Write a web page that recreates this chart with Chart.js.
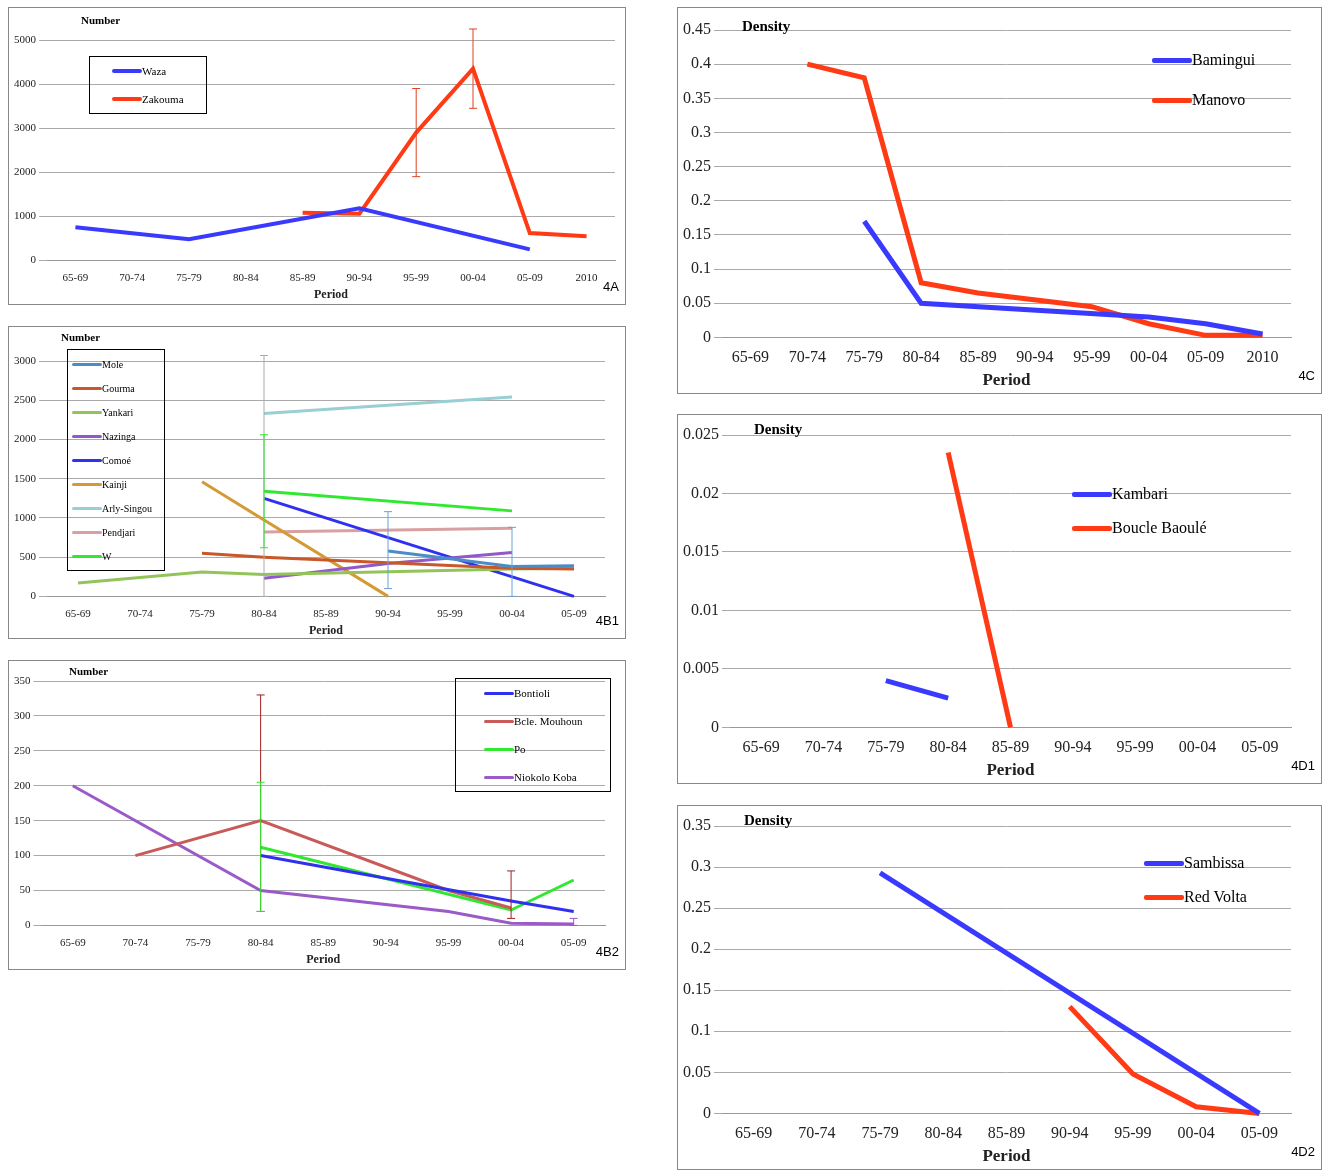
<!DOCTYPE html>
<html><head><meta charset="utf-8">
<script src="https://cdn.jsdelivr.net/npm/chart.js@4"></script>
<style>
body{margin:0;background:#fff;width:1322px;height:1170px;position:relative;font-family:"Liberation Serif",serif}
.p{position:absolute;border:1px solid #888;background:#fff;box-sizing:border-box}
.p canvas{position:absolute;left:0;top:0}
.ttl{position:absolute;font-weight:bold}
.tag{position:absolute;font-family:"Liberation Sans",sans-serif;font-size:13px}
.lg{position:absolute}
.lg div{display:flex;align-items:center;white-space:nowrap}
.lg span{display:inline-block}
</style></head><body>

<div class="p" id="pA" style="left:8px;top:7px;width:618px;height:298px"><canvas id="cA"></canvas></div>
<div class="p" id="pB1" style="left:8px;top:326px;width:618px;height:313px"><canvas id="cB1"></canvas></div>
<div class="p" id="pB2" style="left:8px;top:660px;width:618px;height:310px"><canvas id="cB2"></canvas></div>
<div class="p" id="pC" style="left:677px;top:7px;width:645px;height:387px"><canvas id="cC"></canvas></div>
<div class="p" id="pD1" style="left:677px;top:414px;width:645px;height:370px"><canvas id="cD1"></canvas></div>
<div class="p" id="pD2" style="left:677px;top:805px;width:645px;height:365px"><canvas id="cD2"></canvas></div>

<script>
// Periodos
const periodos9 = ["65-69","70-74","75-79","80-84","85-89","90-94","95-99","00-04","05-09"];
const periodos10 = ["65-69","70-74","75-79","80-84","85-89","90-94","95-99","00-04","05-09","2010"];

// 4A
const waza = [750,null,480,null,null,1180,null,null,250,null];
const zakouma = [null,null,null,null,1080,1060,2900,4350,620,550];
const errZakouma = [null,null,null,null,null,null,[1900,3900],[3450,5250],null,null];

// 4B1
const mole = [null,null,null,null,null,580,null,380,390];
const gourma = [null,null,550,500,null,null,null,360,350];
const yankari = [170,null,310,280,null,null,null,350,360];
const nazinga = [null,null,null,230,null,420,null,560,null];
const comoe = [null,null,null,1250,null,null,null,null,0];
const kainji = [null,null,1460,null,null,0,null,null,null];
const arly = [null,null,null,2330,null,null,null,2540,null];
const pendjari = [null,null,null,820,null,null,null,870,null];
const wPark = [null,null,null,1340,null,null,null,1090,null];
const errArly = [null,null,null,[0,3070],null,null,null,null,null];
const errW = [null,null,null,[620,2060],null,null,null,null,null];
const errMole = [null,null,null,null,null,[100,1080],null,[0,880],null];

// 4B2
const bontioli = [null,null,null,100,null,null,null,35,20];
const mouhoun = [null,100,null,150,null,null,50,25,null];
const po = [null,null,null,112,null,null,null,22,65];
const niokolo = [200,null,null,50,null,null,20,3,2];
const errMouhoun = [null,null,null,[20,330],null,null,null,[10,78],null];
const errPo = [null,null,null,[20,205],null,null,null,null,null];
const errNiokolo = [null,null,null,null,null,null,null,null,[0,10]];

// 4C
const bamingui = [null,null,0.17,0.05,null,null,null,0.03,0.02,0.005];
const manovo = [null,0.40,0.38,0.08,0.065,null,0.045,0.02,0.003,0.003];

// 4D1
const kambari = [null,null,0.004,0.0025,null,null,null,null,null];
const boucle = [null,null,null,0.0235,0,null,null,null,null];

// 4D2
const sambissa = [null,null,0.293,null,null,null,null,null,0];
const redVolta = [null,null,null,null,null,0.13,0.048,0.008,0];

const errPlugin = {
  id:"err",
  afterDatasetsDraw(chart){
    const c = chart.ctx, x = chart.scales.x, y = chart.scales.y;
    (chart.options.plugins.err.bars||[]).forEach(b=>{
      b.data.forEach((e,i)=>{
        if(!e) return;
        const px = x.getPixelForValue(i), y0 = y.getPixelForValue(e[0]), y1 = y.getPixelForValue(e[1]);
        c.save(); c.strokeStyle=b.color; c.lineWidth=1;
        c.beginPath(); c.moveTo(px,y0); c.lineTo(px,y1);
        c.moveTo(px-4,y0); c.lineTo(px+4,y0); c.moveTo(px-4,y1); c.lineTo(px+4,y1);
        c.stroke(); c.restore();
      });
    });
  }
};

function grafico(pid, cid, labels, series, y, opt){
  const p = document.getElementById(pid);
  const cv = document.getElementById(cid);
  cv.width = p.clientWidth; cv.height = p.clientHeight;
  cv.style.width = p.clientWidth+"px"; cv.style.height = p.clientHeight+"px";
  new Chart(cv,{
    type:"line",
    data:{labels:labels,datasets:series.map(s=>({label:s[0],data:s[1],borderColor:s[2],borderWidth:opt.lw,pointRadius:0,spanGaps:true,tension:0,clip:false}))},
    options:{
      responsive:false,animation:false,
      layout:{padding:opt.pad},
      plugins:{legend:{display:false},tooltip:{enabled:false},err:{bars:opt.err||[]}},
      scales:{
        x:{offset:true,grid:{display:false},border:{color:"#999"},
           ticks:{color:"#222",font:{family:"Liberation Serif",size:opt.fs},maxRotation:0,autoSkip:false},
           title:{display:true,text:"Period",color:"#222",font:{family:"Liberation Serif",size:opt.fs+1,weight:"bold"},padding:0}},
        y:{min:y[0],max:y[1],grid:{color:"#aaa"},border:{display:false},
           ticks:{stepSize:y[2],color:"#222",font:{family:"Liberation Serif",size:opt.fs},callback:v=>+v.toFixed(4)}}
      }
    },
    plugins:[errPlugin]
  });
  const t = document.createElement("div"); t.className="ttl"; t.textContent=opt.ttl;
  t.style.left=opt.tp[0]+"px"; t.style.top=opt.tp[1]+"px"; t.style.fontSize=opt.tfs+"px"; p.appendChild(t);
  const g = document.createElement("div"); g.className="tag"; g.textContent=opt.tag;
  g.style.right="6px"; g.style.bottom="10px"; p.appendChild(g);
  const lg = document.createElement("div"); lg.className="lg";
  lg.style.left=opt.lp[0]+"px"; lg.style.top=opt.lp[1]+"px"; lg.style.fontSize=opt.lfs+"px";
  if(opt.box){lg.style.border="1px solid #000";lg.style.padding=opt.box;}
  series.forEach(s=>{
    const r=document.createElement("div"); r.style.height=opt.lh+"px";
    const sw=document.createElement("span"); sw.style.width=opt.sw+"px"; sw.style.height=opt.lw+"px"; sw.style.background=s[2]; sw.style.borderRadius="2px";
    r.appendChild(sw); r.appendChild(document.createTextNode(s[0])); lg.appendChild(r);
  });
  p.appendChild(lg);
}

grafico("pA","cA",periodos10,[["Waza",waza,"#3a3aff"],["Zakouma",zakouma,"#ff3a14"]],[0,5000,1000],
  {lw:4,pad:{top:32,right:10,left:2,bottom:2},fs:11,ttl:"Number",tp:[72,6],tfs:11,tag:"4A",
   lp:[80,48],lfs:11,lh:28,sw:30,box:"0 22px 0 22px",err:[{data:errZakouma,color:"#e04020"}]});

grafico("pB1","cB1",periodos9,[["Mole",mole,"#4a8cc8"],["Gourma",gourma,"#c8582a"],["Yankari",yankari,"#92c45a"],
  ["Nazinga",nazinga,"#9058c8"],["Comoé",comoe,"#3030f0"],["Kainji",kainji,"#d49a34"],["Arly-Singou",arly,"#98cfd4"],
  ["Pendjari",pendjari,"#d8a0a0"],["W",wPark,"#30e830"]],[0,3000,500],
  {lw:3,pad:{top:34,right:20,left:2,bottom:0},fs:11,ttl:"Number",tp:[52,4],tfs:11,tag:"4B1",
   lp:[58,22],lfs:10,lh:24,sw:30,box:"2px 12px 2px 4px",
   err:[{data:errArly,color:"#aaa"},{data:errW,color:"#30e830"},{data:errMole,color:"#6aa0d8"}]});

grafico("pB2","cB2",periodos9,[["Bontioli",bontioli,"#3030f0"],["Bcle. Mouhoun",mouhoun,"#c85a5a"],["Po",po,"#30e830"],["Niokolo Koba",niokolo,"#9a5ac8"]],[0,350,50],
  {lw:3,pad:{top:20,right:20,left:2,bottom:2},fs:11,ttl:"Number",tp:[60,4],tfs:11,tag:"4B2",
   lp:[446,17],lfs:11,lh:28,sw:30,box:"0 28px 0 28px",
   err:[{data:errMouhoun,color:"#a02020"},{data:errPo,color:"#30e830"},{data:errNiokolo,color:"#9a5ac8"}]});

grafico("pC","cC",periodos10,[["Bamingui",bamingui,"#3a3aff"],["Manovo",manovo,"#ff3a14"]],[0,0.45,0.05],
  {lw:5,pad:{top:22,right:30,left:2,bottom:2},fs:16,ttl:"Density",tp:[64,10],tfs:15,tag:"4C",
   lp:[474,32],lfs:16,lh:40,sw:40,err:[]});

grafico("pD1","cD1",periodos9,[["Kambari",kambari,"#3a3aff"],["Boucle Baoulé",boucle,"#ff3a14"]],[0,0.025,0.005],
  {lw:5,pad:{top:20,right:30,left:2,bottom:2},fs:16,ttl:"Density",tp:[76,6],tfs:15,tag:"4D1",
   lp:[394,62],lfs:16,lh:34,sw:40,err:[]});

grafico("pD2","cD2",periodos9,[["Sambissa",sambissa,"#3a3aff"],["Red Volta",redVolta,"#ff3a14"]],[0,0.35,0.05],
  {lw:5,pad:{top:20,right:30,left:2,bottom:2},fs:16,ttl:"Density",tp:[66,6],tfs:15,tag:"4D2",
   lp:[466,40],lfs:16,lh:34,sw:40,err:[]});
</script>
</body></html>
